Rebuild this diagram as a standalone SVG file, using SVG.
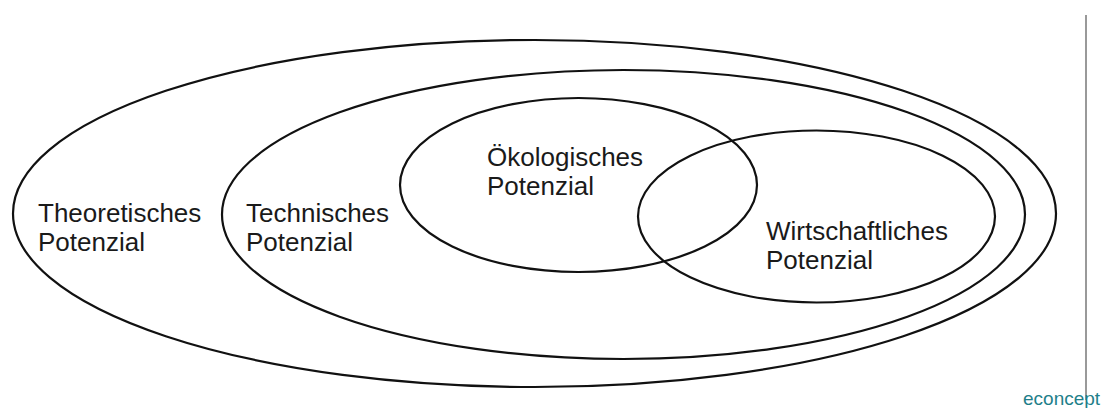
<svg xmlns="http://www.w3.org/2000/svg" width="1105" height="408" viewBox="0 0 1105 408">
<style>
.e{fill:none;stroke:#111;stroke-width:2.2}
.t{font-family:"Liberation Sans",Arial,sans-serif;font-size:26px;fill:#1a1a1a}
.b{font-family:"Liberation Sans",Arial,sans-serif;font-size:19px;fill:#1f7f8a}
</style>
<rect width="1105" height="408" fill="#fff"/>
<g id="theoretisch">
<ellipse class="e" cx="534.5" cy="213.5" rx="521.5" ry="173.5"/>
<text class="t" x="38" y="222">Theoretisches</text>
<text class="t" x="38" y="251">Potenzial</text>
</g>
<g id="technisch">
<ellipse class="e" cx="623.5" cy="214.5" rx="401.5" ry="144.5"/>
<text class="t" x="246" y="222">Technisches</text>
<text class="t" x="246" y="251">Potenzial</text>
</g>
<g id="oekologisch">
<ellipse class="e" cx="578.5" cy="185" rx="178.5" ry="87"/>
<text class="t" x="487" y="166">Ökologisches</text>
<text class="t" x="487" y="195">Potenzial</text>
</g>
<g id="wirtschaftlich">
<ellipse class="e" cx="816.5" cy="216.5" rx="178.5" ry="86"/>
<text class="t" x="766" y="240">Wirtschaftliches</text>
<text class="t" x="766" y="269">Potenzial</text>
</g>
<g id="connectors"></g>
<g id="brand">
<line x1="1086" y1="15" x2="1086" y2="400" stroke="#777" stroke-width="1.5"/>
<text class="b" x="1023" y="405">econcept</text>
</g>
</svg>
